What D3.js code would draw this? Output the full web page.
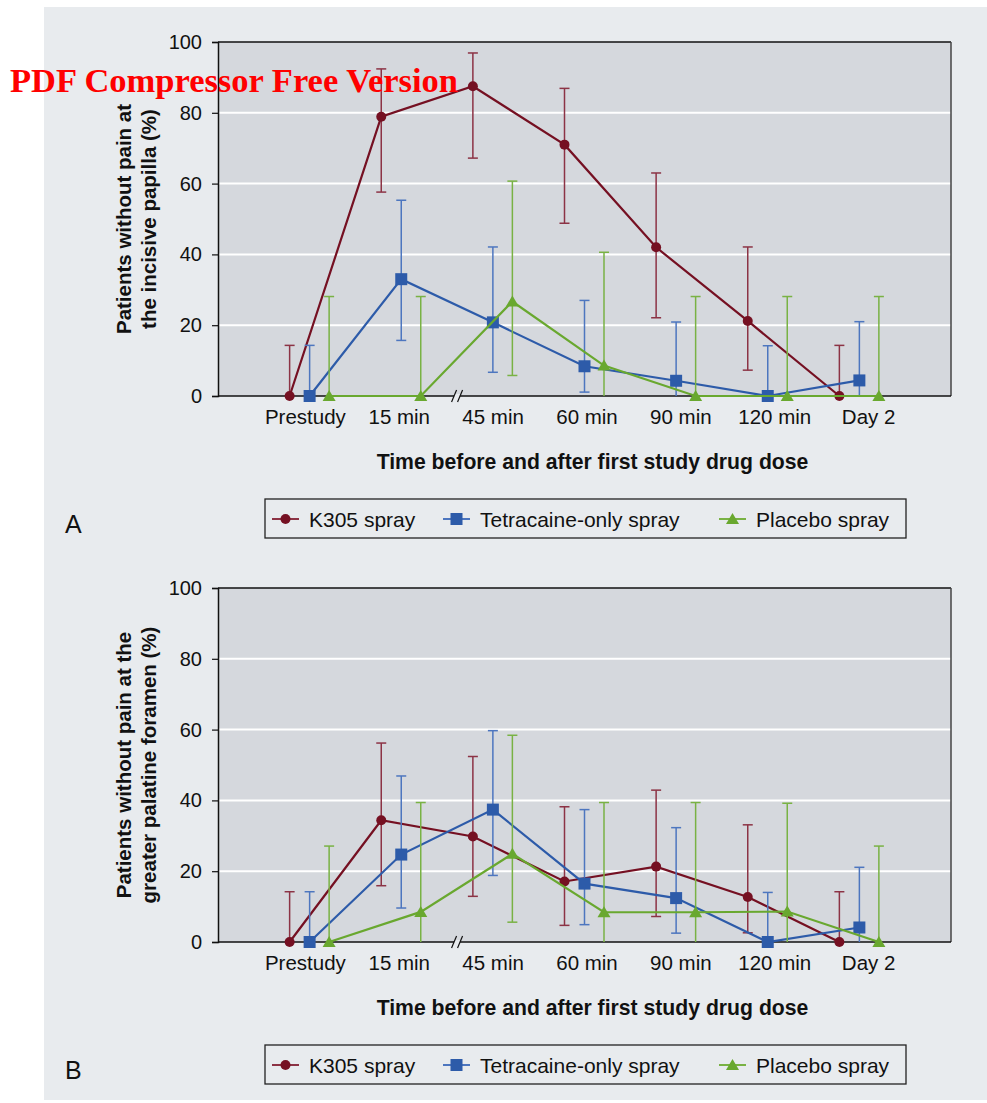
<!DOCTYPE html>
<html>
<head>
<meta charset="utf-8">
<script src="https://cdn.jsdelivr.net/npm/d3@7"></script>
<style>
    body { margin: 0; background: #ffffff; }
    text { font-family: "Liberation Sans", Arial, Helvetica, sans-serif; }
</style>
</head>
<body>
<div id="figure"></div>
<script>
// Categories and labels
const categories = ["Prestudy", "15 min", "45 min", "60 min", "90 min", "120 min", "Day 2"];
const series_names = ["K305 spray", "Tetracaine-only spray", "Placebo spray"];
const y_ticks = [0, 20, 40, 60, 80, 100];

// Panel A: incisive papilla (% patients without pain, with CI bounds)
const a_k305 = [0, 78.9, 87.5, 71.0, 42.0, 21.2, 0];
const a_k305_low = [0, 57.6, 67.2, 48.8, 22.1, 7.3, 0];
const a_k305_high = [14.3, 92.4, 96.9, 86.9, 63.0, 42.1, 14.3];
const a_tet = [0, 33.0, 20.8, 8.4, 4.3, 0, 4.4];
const a_tet_low = [0, 15.7, 6.7, 1.1, 0, 0, 0];
const a_tet_high = [14.3, 55.3, 42.1, 27.0, 20.9, 14.2, 21.0];
const a_pla = [0, 0, 26.7, 8.6, 0, 0, 0];
const a_pla_low = [0, 0, 5.8, 0, 0, 0, 0];
const a_pla_high = [28.1, 28.1, 60.7, 40.6, 28.1, 28.1, 28.1];

// Panel B: greater palatine foramen
const b_k305 = [0, 34.4, 29.8, 17.1, 21.3, 12.7, 0];
const b_k305_low = [0, 15.9, 12.9, 4.7, 7.2, 2.6, 0];
const b_k305_high = [14.2, 56.2, 52.4, 38.2, 42.9, 33.1, 14.2];
const b_tet = [0, 24.7, 37.4, 16.5, 12.4, 0, 4.1];
const b_tet_low = [0, 9.6, 18.8, 4.9, 2.5, 0, 0];
const b_tet_high = [14.2, 46.9, 59.7, 37.4, 32.3, 14.0, 21.1];
const b_pla = [0, 8.5, 24.9, 8.4, 8.4, 8.6, 0];
const b_pla_low = [0, 0, 5.6, 0, 0, 0, 0];
const b_pla_high = [27.1, 39.4, 58.4, 39.4, 39.4, 39.2, 27.1];

const width = 987, height = 1103;
const plot_left = 218, plot_right = 951;
const plot_top = 42, plot_bottom = 396;
const panel_gap = 546;

const line_colors = ["#751022", "#2d5ba9", "#69a82f"];
const err_colors = ["#8c3345", "#4d76bf", "#79b244"];
const offsets = [-20, 0, 19.5];

let svg = d3.select("#figure")
    .append("svg")
    .attr("width", width)
    .attr("height", height);

// Light grey page panel
svg.append("rect")
    .attr("x", 44).attr("y", 7)
    .attr("width", width - 44).attr("height", 1093)
    .attr("fill", "#e8ebee");

let x = d3.scalePoint()
    .domain(categories)
    .range([plot_left, plot_right])
    .padding(1);

// tick labels sit a little wider than the points
let x_labels = d3.scalePoint()
    .domain(categories)
    .range([211, 962])
    .padding(1);

let y = d3.scaleLinear()
    .domain([0, 100])
    .range([plot_bottom, plot_top]);

function drawMarker(g, shape, cx, cy, color) {
    if (shape === 0) {
        g.append("circle").attr("cx", cx).attr("cy", cy).attr("r", 5).attr("fill", color);
    } else if (shape === 1) {
        g.append("rect").attr("x", cx - 6).attr("y", cy - 6)
            .attr("width", 12).attr("height", 12).attr("fill", color);
    } else {
        g.append("path")
            .attr("d", `M${cx},${cy - 6}L${cx + 6.5},${cy + 5}L${cx - 6.5},${cy + 5}Z`)
            .attr("fill", color);
    }
}

function drawPanel(dy, title_lines, letter, series) {
    let g = svg.append("g").attr("transform", `translate(0, ${dy})`);

    // plot background
    g.append("rect")
        .attr("x", plot_left).attr("y", plot_top)
        .attr("width", plot_right - plot_left).attr("height", plot_bottom - plot_top)
        .attr("fill", "#d5d8dd");

    // white gridlines
    g.selectAll(".grid")
        .data(y_ticks.filter(d => d > 0 && d < 100))
        .enter()
        .append("line")
        .attr("x1", plot_left).attr("x2", plot_right)
        .attr("y1", d => y(d)).attr("y2", d => y(d))
        .attr("stroke", "#ffffff")
        .attr("stroke-width", 2);

    // frame: top black, right dark grey
    g.append("line")
        .attr("x1", plot_left).attr("x2", plot_right)
        .attr("y1", plot_top).attr("y2", plot_top)
        .attr("stroke", "#111").attr("stroke-width", 1.5);
    g.append("line")
        .attr("x1", plot_right).attr("x2", plot_right)
        .attr("y1", plot_top).attr("y2", plot_bottom)
        .attr("stroke", "#444").attr("stroke-width", 1.5);

    // y axis
    let y_axis = g.append("g")
        .attr("transform", `translate(${plot_left}, 0)`)
        .call(d3.axisLeft(y).tickValues(y_ticks).tickSize(6).tickPadding(10));
    y_axis.select(".domain").attr("stroke", "#111").attr("stroke-width", 1.5);
    y_axis.selectAll(".tick line").attr("stroke", "#111").attr("stroke-width", 1.2);
    y_axis.selectAll(".tick text")
        .style("font-size", "20px")
        .style("font-family", "Liberation Sans, Arial, sans-serif")
        .attr("fill", "#111");

    // x axis line
    g.append("line")
        .attr("x1", plot_left).attr("x2", plot_right)
        .attr("y1", plot_bottom).attr("y2", plot_bottom)
        .attr("stroke", "#111").attr("stroke-width", 1.5);

    // x tick labels
    let x_axis = g.append("g")
        .attr("transform", `translate(0, ${plot_bottom})`)
        .call(d3.axisBottom(x_labels).tickSize(0).tickPadding(13));
    x_axis.select(".domain").remove();
    x_axis.selectAll(".tick text")
        .style("font-size", "20.5px")
        .style("font-family", "Liberation Sans, Arial, sans-serif")
        .attr("fill", "#111");

    // axis break "//" between 15 min and 45 min
    let bx = (x(categories[1]) + x(categories[2])) / 2 + 11;
    g.append("rect")
        .attr("x", bx - 4).attr("y", plot_bottom - 2)
        .attr("width", 6).attr("height", 4)
        .attr("fill", "#e8ebee");
    [-4, 2].forEach(function (o) {
        g.append("line")
            .attr("x1", bx + o - 2.5).attr("y1", plot_bottom + 6)
            .attr("x2", bx + o + 2.5).attr("y2", plot_bottom - 6)
            .attr("stroke", "#111").attr("stroke-width", 1.2);
    });

    // series: error bars, line, markers
    series.forEach(function (s, i) {
        let sg = g.append("g");
        categories.forEach(function (c, j) {
            let cx = x(c) + offsets[i];
            sg.append("line")
                .attr("x1", cx).attr("x2", cx)
                .attr("y1", y(s.low[j])).attr("y2", y(s.high[j]))
                .attr("stroke", err_colors[i]).attr("stroke-width", 1.5);
            [s.low[j], s.high[j]].forEach(function (v) {
                if (v <= 0) return;
                sg.append("line")
                    .attr("x1", cx - 5).attr("x2", cx + 5)
                    .attr("y1", y(v)).attr("y2", y(v))
                    .attr("stroke", err_colors[i]).attr("stroke-width", 1.5);
            });
        });

        let line = d3.line()
            .x((d, j) => x(categories[j]) + offsets[i])
            .y(d => y(d));
        sg.append("path")
            .datum(s.values)
            .attr("d", line)
            .attr("fill", "none")
            .attr("stroke", line_colors[i])
            .attr("stroke-width", 2.2);

        s.values.forEach(function (v, j) {
            drawMarker(sg, i, x(categories[j]) + offsets[i], y(v), line_colors[i]);
        });
    });

    // y axis title (two lines, rotated)
    let yt = g.append("text")
        .attr("transform", `translate(131, ${(plot_top + plot_bottom) / 2}) rotate(-90)`)
        .attr("text-anchor", "middle")
        .style("font-size", "20.5px")
        .style("font-weight", "bold")
        .attr("fill", "#111");
    yt.append("tspan").attr("x", 0).attr("y", 0).text(title_lines[0]);
    yt.append("tspan").attr("x", 0).attr("y", 25).text(title_lines[1]);

    // x axis title
    g.append("text")
        .attr("x", (plot_left + plot_right) / 2 + 8)
        .attr("y", 469)
        .attr("text-anchor", "middle")
        .style("font-size", "21.2px")
        .style("font-weight", "bold")
        .attr("fill", "#111")
        .text("Time before and after first study drug dose");

    // legend
    let lg = g.append("g");
    lg.append("rect")
        .attr("x", 265).attr("y", 499)
        .attr("width", 641).attr("height", 39)
        .attr("fill", "none")
        .attr("stroke", "#222").attr("stroke-width", 1.3);
    let lx = [272, 443, 719];
    series_names.forEach(function (name, i) {
        lg.append("line")
            .attr("x1", lx[i]).attr("x2", lx[i] + 27)
            .attr("y1", 519).attr("y2", 519)
            .attr("stroke", err_colors[i]).attr("stroke-width", 2);
        drawMarker(lg, i, lx[i] + 13.5, 519, line_colors[i]);
        lg.append("text")
            .attr("x", lx[i] + 37).attr("y", 526.5)
            .style("font-size", "21px")
            .attr("fill", "#111")
            .text(name);
    });

    // panel letter
    g.append("text")
        .attr("x", 65).attr("y", 533)
        .style("font-size", "25px")
        .attr("fill", "#111")
        .text(letter);
}

drawPanel(0, ["Patients without pain at", "the incisive papilla (%)"], "A", [
    {values: a_k305, low: a_k305_low, high: a_k305_high},
    {values: a_tet, low: a_tet_low, high: a_tet_high},
    {values: a_pla, low: a_pla_low, high: a_pla_high}
]);

drawPanel(panel_gap, ["Patients without pain at the", "greater palatine foramen (%)"], "B", [
    {values: b_k305, low: b_k305_low, high: b_k305_high},
    {values: b_tet, low: b_tet_low, high: b_tet_high},
    {values: b_pla, low: b_pla_low, high: b_pla_high}
]);

// watermark from the source PDF
svg.append("text")
    .attr("x", 10).attr("y", 92)
    .attr("textLength", 448)
    .attr("lengthAdjust", "spacingAndGlyphs")
    .style("font-family", "Liberation Serif, Times New Roman, serif")
    .style("font-size", "34px")
    .style("font-weight", "bold")
    .attr("fill", "#ff0000")
    .text("PDF Compressor Free Version");
</script>
</body>
</html>
